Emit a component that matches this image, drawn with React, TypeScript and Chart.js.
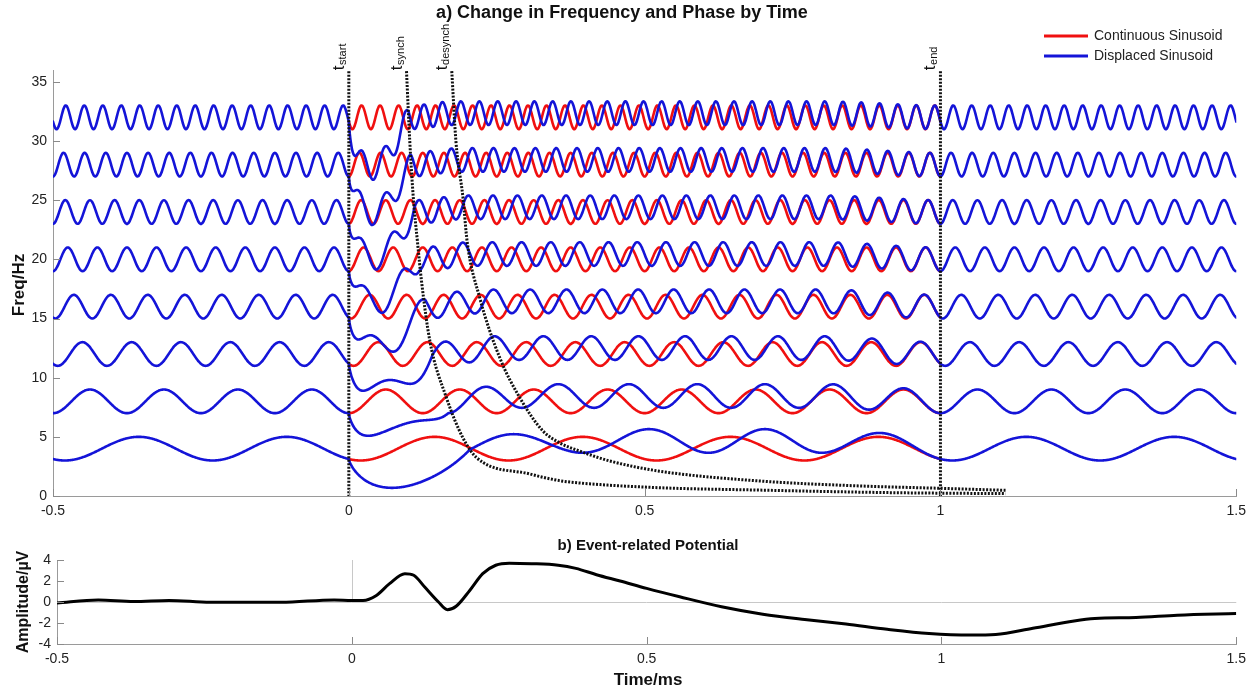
import { useEffect, useRef } from "react";
import { Chart, registerables } from "chart.js";

Chart.register(...registerables);

// ---------- axes ----------
const X_TICKS = [-0.5, 0, 0.5, 1, 1.5];
const FREQ_TICKS = [0, 5, 10, 15, 20, 25, 30, 35];
const AMP_TICKS = [-4, -2, 0, 2, 4];

// ---------- panel a: sinusoid bands ----------
const FREQS = [4, 8, 12, 16, 20, 24, 28, 32];
const CONT_DELAY = [0.02, 0, 0.008, 0.004, 0, 0, 0, 0.006]; // s
const T_SYNCH_AT = [0.205, 0.168, 0.142, 0.129, 0.119, 0.111, 0.105, 0.101];
const T_DESYNCH_AT = [0.38, 0.292, 0.253, 0.226, 0.207, 0.195, 0.186, 0.179];
const DIP_DEPTH = [2.4, 3.3, 3.3, 3.5, 3.7, 3.9, 4.1, 4.3];
const LAG_CYCLES = [0.5, 0.34, 0.36, 0.35, 0.35, 0.35, 0.35, 0.37];
const OVERSHOOT = [0.65, 0.45, 0.5, 0.45, 0.45, 0.4, 0.4, 0.35];

// dotted marker lines
const T_START = 0;
const T_END = 1;
const MARK_TOP = 35.9;
const SYNCH_T = [0.0975, 0.103, 0.109, 0.116, 0.123, 0.137, 0.165, 0.193, 0.216, 0.306, 0.356, 0.39, 0.525, 0.694, 0.92, 1.11];
const SYNCH_F = [35.9, 30, 25.2, 21.5, 18.1, 13.1, 8.3, 4.9, 3.24, 1.86, 1.3, 1.1, 0.7, 0.5, 0.28, 0.2];
const DESYNCH_T = [0.174, 0.181, 0.193, 0.2, 0.221, 0.255, 0.289, 0.328, 0.356, 0.39, 0.441, 0.525, 0.694, 0.863, 1.0, 1.11];
const DESYNCH_F = [35.9, 30, 25.2, 21.5, 16.8, 11.7, 8.3, 5.5, 4.5, 3.8, 2.96, 2.1, 1.27, 0.85, 0.65, 0.48];

// ---------- panel b: event-related potential ----------
const ERP_T = [-0.5, -0.43, -0.37, -0.31, -0.24, -0.12, -0.03, 0, 0.019, 0.041, 0.064, 0.09, 0.105, 0.124, 0.147, 0.162, 0.177, 0.2, 0.222, 0.244, 0.267, 0.305, 0.35, 0.38, 0.415, 0.455, 0.5, 0.556, 0.627, 0.697, 0.768, 0.838, 0.908, 0.979, 1.05, 1.092, 1.155, 1.225, 1.26, 1.33, 1.4, 1.5];
const ERP_V = [-0.1, 0.2, 0.05, 0.15, -0.03, -0.03, 0.2, 0.15, 0.15, 0.6, 1.75, 2.7, 2.55, 1.4, 0, -0.73, -0.4, 1.1, 2.7, 3.5, 3.7, 3.65, 3.5, 3.2, 2.6, 2.0, 1.3, 0.5, -0.45, -1.16, -1.67, -2.1, -2.6, -3.0, -3.15, -3.1, -2.5, -1.8, -1.57, -1.48, -1.26, -1.1];

const RED = "#f01010";
const BLUE = "#1414d8";
const FONT = "'Liberation Sans', Arial, sans-serif";

const SAMPLE_STEP = 0.001;

function smoothStep(u: number) {
  const v = Math.max(0, Math.min(1, u));
  return v * v * (3 - 2 * v);
}
function continuous(i: number, t: number) {
  const f = FREQS[i];
  return f - Math.cos(2 * Math.PI * f * (t - CONT_DELAY[i]));
}
function displaced(i: number, t: number) {
  if (t <= T_START || t >= T_END) return continuous(i, t);
  const f = FREQS[i];
  const ts = T_SYNCH_AT[i];
  const td = T_DESYNCH_AT[i];
  let c: number;
  let d: number;
  if (t < ts) {
    const u = t / ts;
    c = LAG_CYCLES[i] * smoothStep(u);
    d = -DIP_DEPTH[i] * Math.sin(Math.PI * Math.pow(u, 0.7));
  } else {
    c = t < td ? LAG_CYCLES[i] : (LAG_CYCLES[i] * (1 + Math.cos((Math.PI * (t - td)) / (1 - td)))) / 2;
    d = OVERSHOOT[i] * smoothStep((t - ts) / (td - ts)) * smoothStep((1 - t) / 0.2);
  }
  return f - Math.cos(2 * Math.PI * f * (t - CONT_DELAY[i]) - 2 * Math.PI * c) + d;
}

function sampleTimes(a: number, b: number) {
  const out: number[] = [];
  const n = Math.round((b - a) / SAMPLE_STEP);
  for (let k = 0; k <= n; k++) out.push(a + k * SAMPLE_STEP);
  return out;
}

function drawRotated(ctx: CanvasRenderingContext2D, text: string, x: number, y: number, font: string) {
  ctx.save();
  ctx.translate(x, y);
  ctx.rotate(-Math.PI / 2);
  ctx.font = font;
  ctx.textAlign = "center";
  ctx.textBaseline = "middle";
  ctx.fillText(text, 0, 0);
  ctx.restore();
}

function drawMarkLabel(ctx: CanvasRenderingContext2D, x: number, yBottom: number, sub: string) {
  ctx.save();
  ctx.translate(x, yBottom);
  ctx.rotate(-Math.PI / 2);
  ctx.fillStyle = "#111";
  ctx.textAlign = "left";
  ctx.textBaseline = "alphabetic";
  ctx.font = `17px ${FONT}`;
  ctx.fillText("t", 0, 0);
  const w = ctx.measureText("t").width;
  ctx.font = `11px ${FONT}`;
  ctx.fillText(sub, w + 0.5, 2);
  ctx.restore();
}

function inwardTicks(chart: any, xTicks: number[], yTicks: number[]) {
  const { ctx, chartArea, scales } = chart;
  ctx.save();
  ctx.strokeStyle = "#8a8a8a";
  ctx.lineWidth = 1;
  ctx.beginPath();
  for (const v of xTicks) {
    const px = Math.round(scales.x.getPixelForValue(v)) + 0.5;
    ctx.moveTo(px, chartArea.bottom);
    ctx.lineTo(px, chartArea.bottom - 7);
  }
  for (const v of yTicks) {
    const py = Math.round(scales.y.getPixelForValue(v)) + 0.5;
    ctx.moveTo(chartArea.left, py);
    ctx.lineTo(chartArea.left + 7, py);
  }
  ctx.stroke();
  ctx.restore();
}

const topDecor = {
  id: "topDecor",
  afterDraw(chart: any) {
    const { ctx, scales } = chart;
    inwardTicks(chart, X_TICKS, FREQ_TICKS);
    ctx.save();
    ctx.fillStyle = "#111";
    ctx.font = `bold 18px ${FONT}`;
    ctx.textAlign = "center";
    ctx.textBaseline = "middle";
    ctx.fillText("a) Change in Frequency and Phase by Time", 622, 13);
    drawRotated(ctx, "Freq/Hz", 19, 285, `bold 17px ${FONT}`);
    const yTop = scales.y.getPixelForValue(MARK_TOP);
    drawMarkLabel(ctx, scales.x.getPixelForValue(T_START) - 5, yTop - 1, "start");
    drawMarkLabel(ctx, scales.x.getPixelForValue(SYNCH_T[0]) - 5, yTop - 1, "synch");
    drawMarkLabel(ctx, scales.x.getPixelForValue(DESYNCH_T[0]) - 5, yTop - 1, "desynch");
    drawMarkLabel(ctx, scales.x.getPixelForValue(T_END) - 5, yTop - 1, "end");
    const items = [
      { label: "Continuous Sinusoid", color: RED, y: 36 },
      { label: "Displaced Sinusoid", color: BLUE, y: 56 },
    ];
    ctx.font = `14px ${FONT}`;
    ctx.textAlign = "left";
    for (const it of items) {
      ctx.strokeStyle = it.color;
      ctx.lineWidth = 3;
      ctx.beginPath();
      ctx.moveTo(1044, it.y);
      ctx.lineTo(1088, it.y);
      ctx.stroke();
      ctx.fillStyle = "#222";
      ctx.fillText(it.label, 1094, it.y);
    }
    ctx.restore();
  },
};

const bottomDecor = {
  id: "bottomDecor",
  beforeDatasetsDraw(chart: any) {
    const { ctx, chartArea, scales } = chart;
    ctx.save();
    ctx.strokeStyle = "#c8c8c8";
    ctx.lineWidth = 1;
    const y0 = Math.round(scales.y.getPixelForValue(0)) + 0.5;
    ctx.beginPath();
    ctx.moveTo(chartArea.left, y0);
    ctx.lineTo(chartArea.right, y0);
    const x0 = Math.round(scales.x.getPixelForValue(0)) + 0.5;
    ctx.moveTo(x0, chartArea.top);
    ctx.lineTo(x0, y0);
    ctx.stroke();
    ctx.restore();
  },
  afterDraw(chart: any) {
    const { ctx } = chart;
    inwardTicks(chart, X_TICKS, AMP_TICKS);
    ctx.save();
    ctx.fillStyle = "#111";
    ctx.font = `bold 15px ${FONT}`;
    ctx.textAlign = "center";
    ctx.textBaseline = "middle";
    ctx.fillText("b) Event-related Potential", 648, 16);
    ctx.font = `bold 17px ${FONT}`;
    ctx.fillText("Time/ms", 648, 150);
    drawRotated(ctx, "Amplitude/\u00B5V", 24, 72, `bold 16px ${FONT}`);
    ctx.restore();
  },
};

function baseScale(min: number, max: number, ticks: number[], size: number, isX: boolean) {
  return {
    type: "linear" as const,
    min,
    max,
    afterBuildTicks: (s: any) => {
      s.ticks = ticks.map((v) => ({ value: v }));
    },
    afterFit: (s: any) => {
      if (isX) s.height = size;
      else s.width = size;
    },
    grid: { display: false, drawTicks: false },
    border: { display: true, color: "#9a9a9a", width: 1 },
    ticks: {
      color: "#222",
      font: { family: FONT, size: 14 },
      padding: isX ? 7 : 6,
      maxRotation: 0,
      autoSkip: false,
      callback: (v: any) => String(Number(v)),
    },
  };
}

export default function App() {
  const topRef = useRef<HTMLCanvasElement>(null);
  const botRef = useRef<HTMLCanvasElement>(null);

  useEffect(() => {
    const full = sampleTimes(-0.5, 1.5);
    const mid = sampleTimes(0, 1);
    const datasets: any[] = [];
    const dotted = {
      borderColor: "#111",
      borderWidth: 3,
      borderDash: [2, 1.5],
      pointRadius: 0,
      order: 0,
    };
    const wave = {
      borderWidth: 2.6,
      pointRadius: 0,
      cubicInterpolationMode: "monotone",
      borderJoinStyle: "round",
      borderCapStyle: "round",
    };

    datasets.push({ ...dotted, label: "t_start", data: [{ x: T_START, y: MARK_TOP }, { x: T_START, y: 0 }] });
    datasets.push({ ...dotted, label: "t_end", data: [{ x: T_END, y: MARK_TOP }, { x: T_END, y: 0 }] });
    datasets.push({
      ...dotted,
      label: "t_synch",
      data: SYNCH_T.map((t, k) => ({ x: t, y: SYNCH_F[k] })),
      cubicInterpolationMode: "monotone",
    });
    datasets.push({
      ...dotted,
      label: "t_desynch",
      data: DESYNCH_T.map((t, k) => ({ x: t, y: DESYNCH_F[k] })),
      cubicInterpolationMode: "monotone",
    });
    FREQS.forEach((f, i) => {
      datasets.push({
        ...wave,
        label: `Displaced Sinusoid ${f} Hz`,
        data: full.map((t) => ({ x: t, y: displaced(i, t) })),
        borderColor: BLUE,
        order: 1,
      });
    });
    FREQS.forEach((f, i) => {
      datasets.push({
        ...wave,
        label: `Continuous Sinusoid ${f} Hz`,
        data: mid.map((t) => ({ x: t, y: continuous(i, t) })),
        borderColor: RED,
        order: 2,
      });
    });

    const top = new Chart(topRef.current!, {
      type: "line",
      data: { datasets },
      options: {
        animation: false,
        responsive: true,
        maintainAspectRatio: false,
        parsing: false as any,
        layout: { padding: { left: 0, right: 16, top: 70, bottom: 0 } },
        plugins: { legend: { display: false }, tooltip: { enabled: false }, title: { display: false } },
        scales: {
          x: baseScale(-0.5, 1.5, X_TICKS, 34, true) as any,
          y: baseScale(0, 36, FREQ_TICKS, 53, false) as any,
        },
      },
      plugins: [topDecor],
    });

    const bottom = new Chart(botRef.current!, {
      type: "line",
      data: {
        datasets: [
          {
            label: "Event-related Potential",
            data: ERP_T.map((t, k) => ({ x: t, y: ERP_V[k] })),
            borderColor: "#000",
            borderWidth: 3,
            pointRadius: 0,
            cubicInterpolationMode: "monotone",
          },
        ],
      },
      options: {
        animation: false,
        responsive: true,
        maintainAspectRatio: false,
        layout: { padding: { left: 0, right: 12, top: 30, bottom: 0 } },
        plugins: { legend: { display: false }, tooltip: { enabled: false } },
        scales: {
          x: baseScale(-0.5, 1.5, X_TICKS, 45, true) as any,
          y: baseScale(-4, 4, AMP_TICKS, 57, false) as any,
        },
      },
      plugins: [bottomDecor],
    });

    return () => {
      top.destroy();
      bottom.destroy();
    };
  }, []);

  return (
    <div style={{ position: "absolute", left: 0, top: 0, width: 1253, height: 689, background: "#fff" }}>
      <div style={{ position: "absolute", left: 0, top: 0, width: 1253, height: 530 }}>
        <canvas ref={topRef} />
      </div>
      <div style={{ position: "absolute", left: 0, top: 530, width: 1253, height: 159 }}>
        <canvas ref={botRef} />
      </div>
    </div>
  );
}
